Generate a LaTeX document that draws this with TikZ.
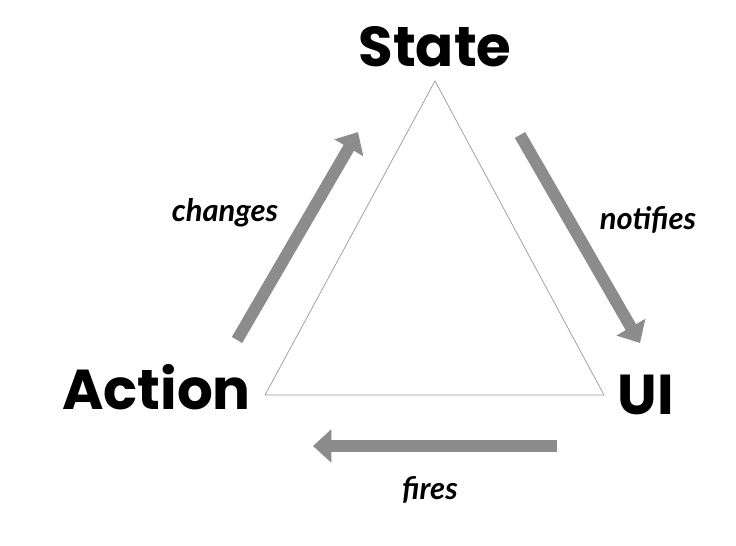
\documentclass[tikz,border=0pt]{standalone}
\usepackage{fontspec}
\usepackage{tikz}
\usepackage{tkz-euclide}
\usetikzlibrary{arrows.meta}
\newfontfamily\headfont{Poppins}
\newfontfamily\handfont{Lato}
\definecolor{flowgray}{HTML}{8C8C8C}
\tikzset{
  flow/.style={flowgray,line width=8.5pt,-{Triangle[width=23pt,length=13pt]}},
  corner/.style={font=\headfont\bfseries\fontsize{40}{44}\selectfont,inner sep=0pt},
  verb/.style={font=\handfont\bfseries\itshape\fontsize{22}{25}\selectfont,inner sep=0pt}
}
\begin{document}
\begin{tikzpicture}
    \useasboundingbox (0,0) rectangle (18.4,13.625);
    \tkzDefPoints{10.875/11.6/S,15.1/3.75/U,6.625/3.75/A}
    \tkzDefPoints{5.925/5.125/c1,8.95/10.325/c2,13.0/10.25/n1,16.0/5.05/n2,13.925/2.475/f1,7.825/2.475/f2}
    \tkzDrawPolygon[gray!80,line width=0.5pt](A,U,S)
    % arrows round the triangle
    \draw[flow] (c1) -- (c2);
    \draw[flow] (n1) -- (n2);
    \draw[flow] (f1) -- (f2);
    \node[corner] (state) at (10.875,12.45) {State};
    \node[corner] (action) at (3.9125,3.95) {Action};
    \node[corner] (ui) at (16.15,3.75) {UI};
    \node[verb] (changes) at (5.625,8.3) {changes};
    \node[verb] (notifies) at (16.2,8.125) {notifies};
    \node[verb] (fires) at (10.75,1.375) {fires};
\end{tikzpicture}
\end{document}
